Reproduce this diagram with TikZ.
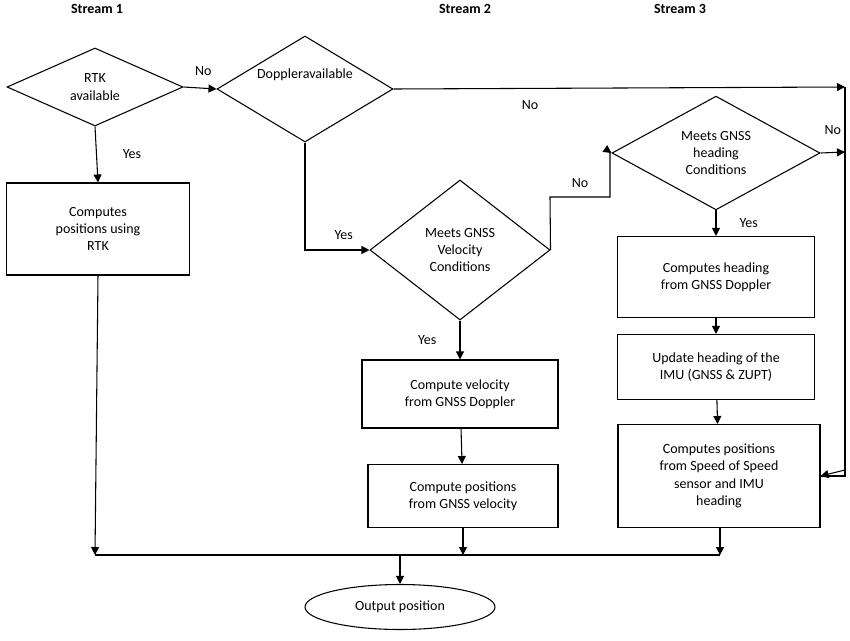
\documentclass[tikz,border=0pt]{standalone}
\usepackage{fontspec}
\setmainfont{Carlito}
\usetikzlibrary{shapes.geometric,arrows.meta}
\begin{document}
\begin{tikzpicture}[x=0.75pt,y=-0.75pt,font=\fontsize{10.5}{13}\selectfont,
 box/.style={draw,thick,align=center,inner sep=0pt},
 dia/.style={draw,thick,diamond,align=center,inner sep=0pt},
 ar/.style={thick,-{Triangle[length=6pt,width=6pt]}},
 ln/.style={thick},
 lbl/.style={font=\fontsize{10.5}{13}\selectfont}]
\useasboundingbox (0,0) rectangle (850,640);
\node[font=\fontsize{10.5}{13}\selectfont\bfseries] (s1) at (97,9) {Stream 1};
\node[font=\fontsize{10.5}{13}\selectfont\bfseries] (s2) at (465,9) {Stream 2};
\node[font=\fontsize{10.5}{13}\selectfont\bfseries] (s3) at (680,9) {Stream 3};
% diamonds
\node[dia,minimum width=176pt*0.75,minimum height=78pt*0.75] (rtk) at (95,87) {RTK\\available};
\node[dia,minimum width=176pt*0.75,minimum height=106pt*0.75] (dop) at (305,89) {};
\node (doptxt) at (305,75) {Doppler\\[-1pt]available};
\node[dia,minimum width=180pt*0.75,minimum height=140pt*0.75] (vel) at (460,250) {Meets GNSS\\Velocity\\Conditions};
\node[dia,minimum width=208pt*0.75,minimum height=108pt*0.75] (hdg) at (716,153) {Meets GNSS\\heading\\Conditions};
% boxes
\node[box,minimum width=183pt*0.75,minimum height=92pt*0.75] (b1) at (98,229) {Computes\\positions using\\RTK};
\node[box,minimum width=196pt*0.75,minimum height=68pt*0.75] (b2) at (460,394) {Compute velocity\\from GNSS Doppler};
\node[box,minimum width=190pt*0.75,minimum height=63pt*0.75] (b3) at (463,496) {Compute positions\\from GNSS velocity};
\node[box,minimum width=197pt*0.75,minimum height=81pt*0.75] (c1) at (716,277) {Computes heading\\from GNSS Doppler};
\node[box,minimum width=197pt*0.75,minimum height=65pt*0.75] (c2) at (716,367) {Update heading of the\\IMU (GNSS \& ZUPT)};
\node[box,minimum width=202pt*0.75,minimum height=103pt*0.75] (c3) at (719,476) {Computes positions\\from Speed of Speed\\sensor and IMU\\heading};
\node[draw,thick,ellipse,minimum width=190pt*0.75,minimum height=45pt*0.75] (out) at (400,607) {Output position};
% coordinates
\coordinate (tr) at (845,87);
\coordinate (rr) at (845,152);
\coordinate (j1) at (95,555);
\coordinate (j2) at (463,555);
\coordinate (j3) at (720,555);
\coordinate (jo) at (400,555);
% connectors
\draw[ar] (rtk.east) -- node[above,pos=0.6,yshift=6pt]{No} (dop.west);
\draw[ar] (dop.east) -- (tr);
\draw[ln] (tr) |- (c3.east);
\draw[ar] (845,400) -- (845,470) -- (c3.east);
\node at (530,105) {No};
\draw[ar] (rtk.south) -- node[right,xshift=16pt]{Yes} (b1.north);
\draw[ar] (dop.south) |- node[pos=0.8,above,yshift=4pt]{Yes} (vel.west);
\draw[ar] (vel.east) -- (550,197) -- node[above,yshift=3pt]{No} (610,197) -- (610,152) -- (hdg.west);
\draw[ar] (hdg.east) -- node[above,yshift=10pt]{No} (rr);
\draw[ar] (hdg.south) -- node[right,xshift=14pt]{Yes} (c1.north);
\draw[ar] (c1) -- (c2);
\draw[ar] (c2) -- (c3);
\draw[ar] (vel.south) -- node[left,xshift=-14pt]{Yes} (b2.north);
\draw[ar] (b2) -- (b3);
\draw[ar] (b1.south) -- (j1);
\draw[ar] (b3.south) -- (j2);
\draw[ar] (c3.south -| j3) -- (j3);
\draw[ln] (j1) -- (j3);
\draw[ar] (jo) -- (out.north);
\end{tikzpicture}
\end{document}
